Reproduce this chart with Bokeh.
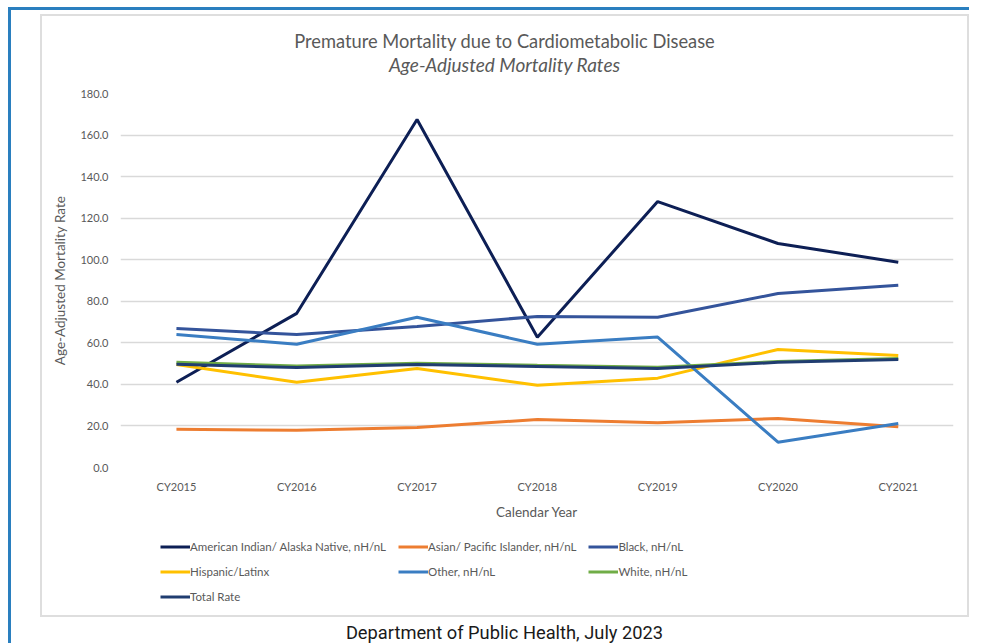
from bokeh.plotting import figure
from bokeh.models import Range1d, FixedTicker, Legend, LegendItem, Div
from bokeh.layouts import column
from bokeh.embed import file_html
from bokeh.resources import INLINE

title_main = "Premature Mortality due to Cardiometabolic Disease"
title_sub = "Age-Adjusted Mortality Rates"
caption_text = "Department of Public Health, July 2023"

years = ["CY2015", "CY2016", "CY2017", "CY2018", "CY2019", "CY2020", "CY2021"]
aian = [41.0, 74.2, 167.5, 62.7, 128.0, 107.8, 98.8]
asian = [18.4, 17.9, 19.2, 23.1, 21.5, 23.6, 19.6]
black = [66.9, 64.0, 67.9, 72.7, 72.3, 83.7, 87.7]
hispanic = [49.6, 41.0, 47.6, 39.6, 43.0, 56.8, 53.9]
other = [64.0, 59.3, 72.3, 59.3, 62.8, 12.2, 21.2]
white = [50.6, 48.8, 50.2, 49.2, 48.3, 51.0, 52.4]
total = [49.7, 48.1, 49.6, 48.6, 47.6, 50.6, 52.0]

series = [
    ("American Indian/ Alaska Native, nH/nL", aian, "#0d1f55"),
    ("Asian/ Pacific Islander, nH/nL", asian, "#ed7d31"),
    ("Black, nH/nL", black, "#34549b"),
    ("Hispanic/Latinx", hispanic, "#ffc000"),
    ("Other, nH/nL", other, "#3a7dc2"),
    ("White, nH/nL", white, "#70ad47"),
    ("Total Rate", total, "#203d70"),
]

FONT = "Lato"
GREY = "#595959"

xs = list(range(len(years)))

# title block
tdiv = Div(text=(f'<div style="line-height:23px">{title_main}<br>'
                 f'<i style="font-size:19px">{title_sub}</i></div>'),
           width=925, height=63, margin=(0, 0, 0, 0),
           styles={"text-align": "center", "font-family": FONT, "font-size": "18.3px",
                   "color": GREY, "padding-top": "14px", "width": "925px",
                   "box-sizing": "border-box"})

p = figure(width=925, height=450, output_backend="svg", toolbar_location=None,
           x_range=Range1d(-0.465, 6.459), y_range=Range1d(0, 180),
           min_border_left=78, min_border_right=14, min_border_top=14, min_border_bottom=62,
           title=None)
p.outline_line_color = None
p.background_fill_color = "white"
p.border_fill_color = "white"

for name, vals, col in series:
    p.line(xs, vals, line_color=col, line_width=3)

# axes
p.xaxis.ticker = FixedTicker(ticks=xs)
p.xaxis.major_label_overrides = {i: y for i, y in enumerate(years)}
p.yaxis.ticker = FixedTicker(ticks=list(range(0, 181, 20)))
p.yaxis.major_label_overrides = {v: f"{v:.1f}" for v in range(0, 181, 20)}
for ax in (p.xaxis[0], p.yaxis[0]):
    ax.axis_line_color = None
    ax.major_tick_line_color = None
    ax.minor_tick_line_color = None
    ax.major_label_text_font = FONT
    ax.major_label_text_font_size = "11px"
    ax.major_label_text_color = GREY
    ax.axis_label_text_font = FONT
    ax.axis_label_text_font_size = "13.5px"
    ax.axis_label_text_color = GREY
    ax.axis_label_text_font_style = "normal"
p.xaxis.axis_label = "Calendar Year"
p.yaxis.axis_label = "Age-Adjusted Mortality Rate"
p.xaxis.major_label_standoff = 6
p.xaxis.axis_label_standoff = 8
p.yaxis.major_label_standoff = 6
p.yaxis.axis_label_standoff = 9

p.xgrid.grid_line_color = None
p.ygrid.grid_line_color = "#d9d9d9"
p.ygrid.grid_line_width = 1.5

# legend strip below the chart (same series names and colours)
lf = figure(width=925, height=86, output_backend="svg", toolbar_location=None,
            x_range=Range1d(0, 1), y_range=Range1d(0, 1), min_border=0,
            x_axis_location=None, y_axis_location=None)
lf.outline_line_color = None
lf.grid.visible = False
items = []
for name, vals, col in series:
    r = lf.line([-5, -4], [-5, -4], line_color=col, line_width=3)
    items.append(LegendItem(label=name, renderers=[r]))
legend = Legend(items=items, ncols=3, orientation="horizontal", location=(40, 12),
                label_text_font=FONT, label_text_font_size="11.5px", label_text_color=GREY,
                glyph_width=30, glyph_height=13, label_height=13, label_standoff=0,
                spacing=12, padding=0, margin=0, border_line_color=None,
                background_fill_alpha=0)
lf.add_layout(legend)

inner = column(tdiv, p, lf, margin=(4, 0, 0, 29), styles={"border": "2px solid #dedede"})

caption = Div(text=caption_text, width=929, height=20,
              margin=(6, 0, 0, 29),
              styles={"text-align": "center", "font-family": "Roboto", "font-size": "18.3px",
                      "line-height": "20px", "color": "#1a1a1a", "width": "929px"})

layout = column(inner, caption, margin=(7, 0, 0, 8),
                styles={"border-top": "3px solid #2a7fbf",
                        "border-left": "3px solid #2a7fbf"})

open("out.html", "w").write(file_html(layout, INLINE))
